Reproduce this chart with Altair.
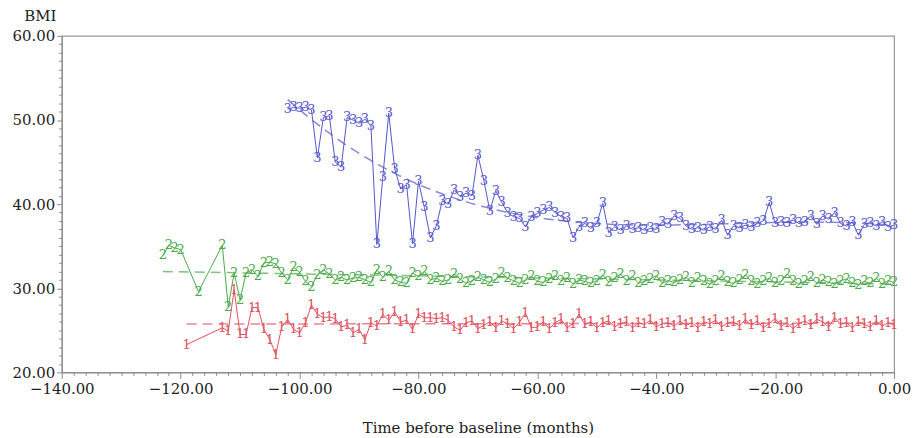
import altair as alt
import pandas as pd

# ---------------- data ----------------
blue_t = list(range(-102, 1))
blue_v = [51.3, 51.5, 51.4, 51.5, 51.2, 45.5, 50.3, 50.5, 45.0, 44.4,
          50.3, 50.0, 49.6, 50.1, 49.3, 35.2, 43.2, 50.8, 44.2, 41.8,
          42.3, 35.3, 42.7, 39.6, 36.0, 37.4, 40.4, 40.0, 41.7, 40.9,
          41.3, 41.0, 45.8, 42.8, 39.2, 41.6, 40.2, 39.0, 38.5, 38.3,
          37.3, 38.5, 38.9, 39.3, 39.6, 39.0, 38.5, 38.3, 36.0, 37.3,
          37.7, 37.1, 37.7, 40.1, 36.6, 37.3, 36.9, 37.4, 37.0, 37.2,
          36.9, 37.1, 37.0, 37.9, 37.6, 38.6, 38.3, 37.4, 37.0, 37.2,
          36.9, 37.3, 37.0, 38.1, 36.3, 37.4, 37.2, 37.5, 37.3, 37.7,
          38.0, 40.2, 37.7, 37.9, 37.8, 38.1, 37.7, 37.9, 38.6, 37.6,
          38.6, 38.2, 39.0, 37.7, 37.4, 37.9, 36.3, 37.6, 37.8, 37.4,
          37.9, 37.3, 37.5]

green_t = [-123, -122, -121, -120, -117, -113, -112, -111, -110, -109,
           -108, -107, -106, -105, -104] + list(range(-103, 1))
green_v = [33.9, 35.1, 34.8, 34.6, 29.6, 35.1, 27.8, 31.8, 28.6, 31.8,
           32.2, 31.4, 33.0, 33.1, 32.9,
           31.8, 31.0, 32.5, 31.9, 30.8, 30.2, 31.6, 32.2, 31.7, 31.0,
           31.3, 31.0, 31.2, 31.3, 31.0, 30.7, 32.2, 31.3, 32.0, 31.0,
           30.7, 30.6, 31.8, 31.4, 32.0, 31.0,
           31.2, 30.8, 31.0, 31.7, 31.1, 30.6, 30.9, 31.3, 31.0, 30.7,
           31.1, 31.8, 31.2, 30.9, 30.6, 31.0, 31.4, 30.8, 30.7, 31.1,
           31.5, 30.9, 31.2, 30.5, 31.0, 30.8, 30.6, 30.9, 31.6, 30.7,
           31.2, 31.7, 30.9, 31.4, 30.6, 30.8, 31.1, 31.5, 30.6, 30.9,
           30.7, 31.0, 31.3, 30.6, 31.2, 30.8, 30.5, 30.9, 31.4, 30.7,
           30.6, 31.0, 31.6, 30.8, 30.5, 30.9, 31.2, 30.6, 30.8, 31.7,
           30.9, 30.5, 30.8, 31.3, 30.6, 31.0, 30.7, 30.5, 30.9, 31.1,
           30.6, 30.4, 30.8, 30.6, 31.2, 30.5, 30.9, 30.7]

red_t = [-119] + list(range(-113, 1))
red_v = [23.3,
         25.3, 24.9, 29.8, 24.5, 24.5, 27.7, 27.7, 25.1, 23.9, 22.1,
         25.4, 26.3, 25.1, 24.7, 25.9, 28.0, 26.9, 26.5, 26.6, 26.4,
         25.4, 25.6, 24.7, 25.1, 23.9, 25.9, 25.5, 26.9, 26.2, 27.2,
         26.0, 26.2, 25.1, 26.9, 26.5, 26.5, 26.4,
         26.5, 26.2, 25.4, 25.0, 25.9, 26.1, 25.2, 25.6, 26.0, 25.3,
         26.1, 25.8, 25.2, 26.0, 27.0, 25.3, 25.4, 26.0, 25.2, 25.9,
         26.3, 25.3, 25.8, 26.9, 25.7, 26.0, 25.3, 25.9, 26.1, 25.4,
         25.8, 26.0, 25.3, 25.9, 25.7, 26.2, 25.4, 25.8, 25.9, 25.5,
         26.1, 25.6, 25.9, 25.3, 26.0, 25.8, 26.2, 25.4, 25.9, 26.0,
         25.5, 26.3, 25.6, 26.1, 25.3, 25.8, 26.4, 25.5, 25.9, 25.2,
         25.8, 26.1, 25.6, 26.3, 26.0, 25.4, 26.5, 25.7, 25.9, 25.3,
         26.0, 25.7, 25.4, 26.1, 25.5, 25.9, 25.6]

series_names = ["3", "2", "1"]
series_colors = ["#5555cc", "#4aa84a", "#e0505e"]

x_ticks = list(range(-140, 1, 2))
y_ticks = list(range(20, 61, 1))

df = pd.concat([
    pd.DataFrame({"t": blue_t, "v": blue_v, "s": "3"}),
    pd.DataFrame({"t": green_t, "v": green_v, "s": "2"}),
    pd.DataFrame({"t": red_t, "v": red_v, "s": "1"}),
], ignore_index=True)

FONT = "DejaVu Serif"

x_enc = alt.X("t:Q", scale=alt.Scale(domain=[-140, 0], nice=False, zero=False),
              axis=alt.Axis(values=x_ticks,
                            labelExpr="datum.value % 20 === 0 ? format(datum.value, '.2f') : ''",
                            tickSize={"condition": {"test": "datum.value % 20 === 0", "value": 6}, "value": 3},
                            labelOverlap=False, labelFlush=False, grid=False, labelPadding=3,
                            title="Time before baseline (months)", titlePadding=24))
y_enc = alt.Y("v:Q", scale=alt.Scale(domain=[20, 60], nice=False, zero=False),
              axis=alt.Axis(values=y_ticks,
                            labelExpr="datum.value % 10 === 0 ? format(datum.value, '.2f') : ''",
                            tickSize={"condition": {"test": "datum.value % 10 === 0", "value": 5}, "value": 3},
                            labelOverlap=False, labelFlush=False, grid=False, labelPadding=2,
                            title="BMI", titleAngle=0, titleAlign="center",
                            titleBaseline="bottom", titleX=-22, titleY=-12))
color_enc = alt.Color("s:N", scale=alt.Scale(domain=series_names, range=series_colors), legend=None)

base = alt.Chart(df)

lines = base.mark_line(strokeWidth=1).encode(x=x_enc, y=y_enc, color=color_enc, detail="s:N")
marks = base.mark_text(font=FONT, fontSize=13, baseline="middle", align="center").encode(
    x=x_enc, y=y_enc, text="s:N", color=color_enc)

trend_blue = base.transform_filter("datum.s === '3'").transform_regression(
    "t", "v", method="poly", order=3, groupby=["s"]).mark_line(
    strokeDash=[10, 6], strokeWidth=1.5, opacity=0.7).encode(x=x_enc, y=y_enc, color=color_enc)
trend_other = base.transform_filter("datum.s !== '3'").transform_regression(
    "t", "v", method="linear", groupby=["s"]).mark_line(
    strokeDash=[10, 6], strokeWidth=1.5, opacity=0.7).encode(x=x_enc, y=y_enc, color=color_enc)

chart = alt.layer(trend_blue, trend_other, lines, marks).properties(
    width=836, height=338,
    autosize=alt.AutoSizeParams(type="none"),
    padding={"left": 54, "top": 27, "right": 17, "bottom": 80},
).configure_view(stroke="#999999", strokeWidth=1.2).configure_axis(
    domainColor="#888888", tickColor="#888888", labelFont=FONT, titleFont=FONT,
    labelFontSize=15, titleFontSize=15, labelColor="#222222", titleColor="#222222",
    titleFontWeight="normal")

chart.save("out.html", embed_options={"renderer": "svg", "actions": False})
